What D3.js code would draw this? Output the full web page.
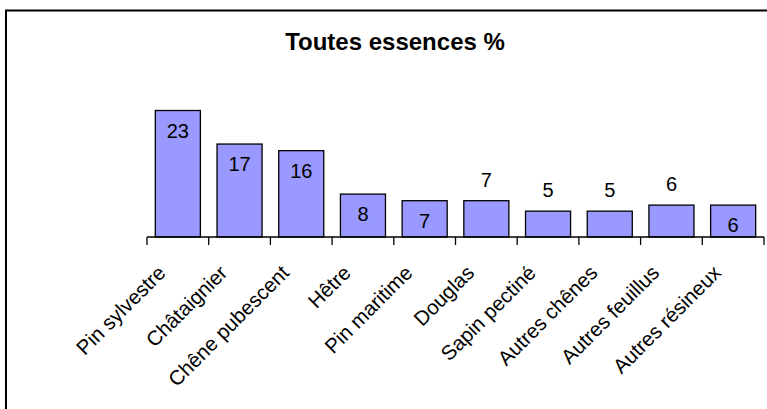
<!DOCTYPE html>
<html>
<head>
<meta charset="utf-8">
<script src="https://cdn.jsdelivr.net/npm/d3@7"></script>
<style>
body { margin: 0; background: #fff; }
text { font-family: Arial, "Liberation Sans", sans-serif; fill: #000; }
</style>
</head>
<body>
<script>
var width = 767,
    height = 409;

// essences et pourcentages
var essences = ["Pin sylvestre", "Châtaignier", "Chêne pubescent", "Hêtre", "Pin maritime",
    "Douglas", "Sapin pectiné", "Autres chênes", "Autres feuillus", "Autres résineux"];
var valeurs = [23, 16.9, 15.7, 7.8, 6.6, 6.6, 4.7, 4.7, 5.8, 5.8];
// position des étiquettes : dans la barre ou au-dessus
var placement = ["in", "in", "in", "in", "in", "out", "out", "out", "out", "in"];

var baseline = 237

var x = d3.scaleBand()
    .domain(essences)
    .range([147, 764])
    .paddingInner(0.27)
    .paddingOuter(0.135);

var y = d3.scaleLinear()
    .domain([0, 25])
    .range([baseline, baseline - 25 * 5.5]);

var svg = d3.select("body")
  .append("svg")
    .attr("width", width)
    .attr("height", height)

// cadre
svg.append("rect")
    .attr("x", 6)
    .attr("y", 10.5)
    .attr("width", 780)
    .attr("height", 420)
    .style("fill", "none")
    .style("stroke", "#000")
    .style("stroke-width", 2)

svg.append("text")
    .attr("x", 395)
    .attr("y", 50)
    .attr("text-anchor", "middle")
    .style("font-size", "24px")
    .style("font-weight", "bold")
    .text("Toutes essences %")

svg.append("g")
    .selectAll("rect")
    .data(valeurs).enter()
    .append("rect")
        .attr("x", function(d, i) { return x(essences[i]); })
        .attr("y", function(d) { return y(d); })
        .attr("width", x.bandwidth())
        .attr("height", function(d) { return baseline - y(d); })
        .style("fill", "#9999ff")
        .style("stroke", "#000")
        .style("stroke-width", 1.3)

// axe : ligne + graduations entre les catégories
var step = x.step();
var axis = svg.append("g").style("stroke", "#000").style("stroke-width", 1.3);
axis.append("line")
    .attr("x1", 147).attr("x2", 764)
    .attr("y1", baseline).attr("y2", baseline);
axis.selectAll("line.tick")
    .data(d3.range(essences.length + 1)).enter()
    .append("line")
        .attr("class", "tick")
        .attr("x1", function(i) { return 147 + i * step; })
        .attr("x2", function(i) { return 147 + i * step; })
        .attr("y1", baseline)
        .attr("y2", baseline + 8);

svg.append("g")
    .selectAll("text")
    .data(valeurs).enter()
    .append("text")
        .attr("x", function(d, i) { return x(essences[i]) + x.bandwidth() / 2; })
        .attr("y", function(d, i) { return placement[i] == "in" ? y(d) + 27 : y(d) - 14; })
        .attr("text-anchor", "middle")
        .style("font-size", "20px")
        .text(function(d) { return d3.format(".0f")(d); })

svg.append("g")
    .selectAll("text")
    .data(essences).enter()
    .append("text")
        .attr("text-anchor", "end")
        .attr("transform", function(d) {
            return "translate(" + (x(d) + x.bandwidth() / 2 - 16) + "," + (baseline + 32) + ") rotate(-45)";
        })
        .attr("dy", "0.35em")
        .style("font-size", "20.5px")
        .text(function(d) { return d; })
</script>
</body>
</html>
